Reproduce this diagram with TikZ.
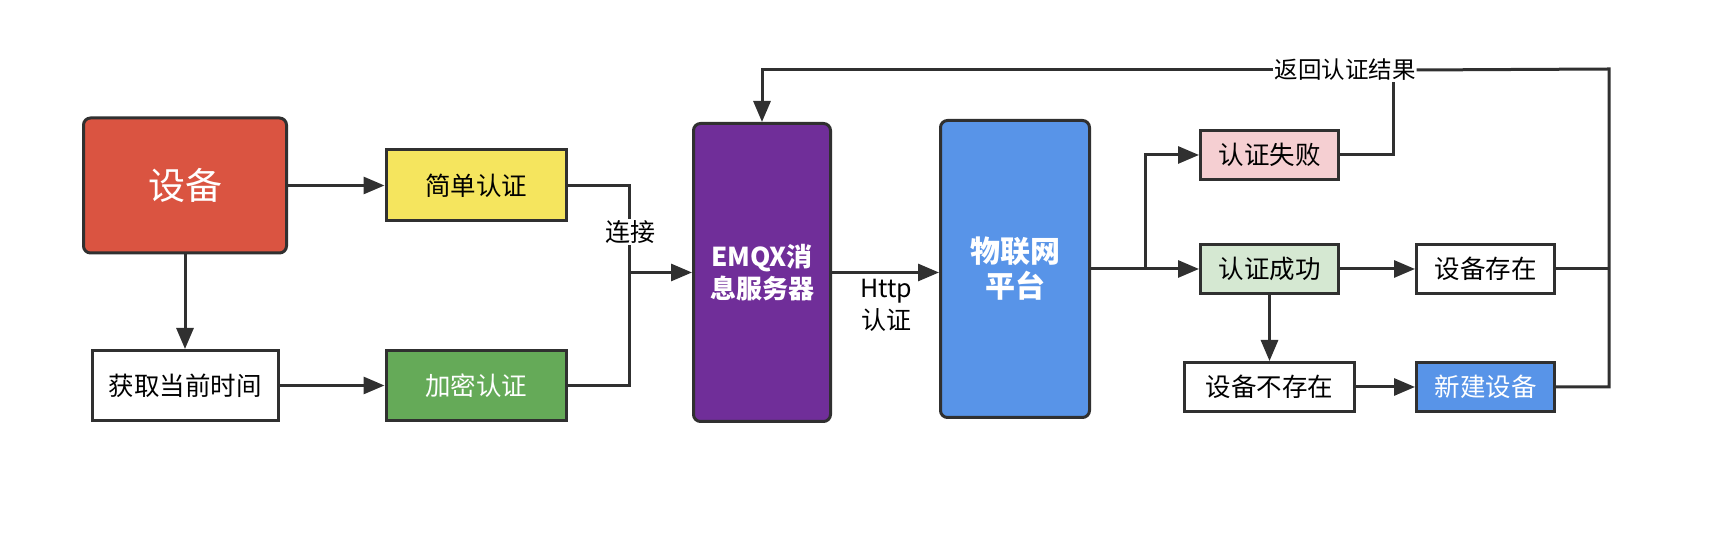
\documentclass[tikz,border=0pt]{standalone}
\usepackage{fontspec}
\setmainfont{Noto Sans CJK SC}
\usetikzlibrary{shapes.geometric, arrows.meta}
\definecolor{linegray}{HTML}{303030}
\definecolor{devred}{HTML}{DA5441}
\definecolor{simpleyellow}{HTML}{F5E55E}
\definecolor{cryptgreen}{HTML}{65AA58}
\definecolor{emqxpurple}{HTML}{702E99}
\definecolor{iotblue}{HTML}{5894E8}
\definecolor{failpink}{HTML}{F5CFD2}
\definecolor{okgreen}{HTML}{D5E8D2}
\tikzstyle{box} = [rectangle, draw=linegray, line width=3pt, text centered, font=\fontsize{25.5}{30}\selectfont]
\tikzstyle{rbox} = [box, rounded corners=7pt, align=center]
\tikzstyle{small} = [box, minimum width=138pt, minimum height=49pt]
\tikzstyle{lbl} = [fill=white, inner sep=1pt, align=center, font=\fontsize{25}{32}\selectfont]
\tikzstyle{line} = [line width=3pt, draw=linegray]
\tikzstyle{arrow} = [line, -{Triangle[length=21pt, width=17pt]}]

\begin{document}
\begin{tikzpicture}[x=1pt, y=1pt, node distance=291pt]
\useasboundingbox (0,0) rectangle (1719,537);

%% NODES

\node (dev) [rbox, fill=devred, text=white, minimum width=203pt, minimum height=135pt, font=\fontsize{37}{44}\selectfont] at (185,351.5) {设备};
\node (simple) [box, fill=simpleyellow, minimum width=180pt, minimum height=71pt, right of=dev] {简单认证};
\node (time) [box, fill=white, minimum width=186pt, minimum height=70pt, below of=dev, node distance=200pt] {获取当前时间};
\node (crypt) [box, fill=cryptgreen, text=white, minimum width=180pt, minimum height=70pt, right of=time] {加密认证};
\node (emqx) [rbox, fill=emqxpurple, text=white, minimum width=137pt, minimum height=298pt, font=\bfseries\fontsize{26}{32}\selectfont] at (762,264.5) {EMQX消\\息服务器};
\node (iot) [rbox, fill=iotblue, text=white, minimum width=149pt, minimum height=297pt, font=\bfseries\fontsize{30}{35}\selectfont] at (1015,268) {物联网\\平台};
\node (ok) [small, fill=okgreen, right of=iot, node distance=254.5pt] {认证成功};
\node (fail) [small, fill=failpink, above of=ok, node distance=114pt] {认证失败};
\node (exist) [small, fill=white, right of=ok, node distance=216pt] {设备存在};
\node (noexist) [small, fill=white, minimum width=170pt, below of=ok, node distance=118pt] {设备不存在};
\node (newdev) [small, fill=iotblue, text=white, right of=noexist, node distance=216pt] {新建设备};
\node (ret) [lbl, font=\fontsize{23.5}{28}\selectfont] at (1345,467) {返回认证结果};
\coordinate (join) at (629,264.5);
\coordinate (split) at (1145,268);
\coordinate (back) at (1609,468);

%% ARROWS

\draw [arrow] (dev) -- (simple);
\draw [arrow] (dev) -- (time);
\draw [arrow] (time) -- (crypt);
\draw [line] (simple.east) -| (join);
\draw [line] (crypt.east) -| (join);
\node (conn) [lbl] at (630,305) {连接};
\draw [arrow] (join) -- (emqx.west);
\draw [arrow] (emqx.east) -- (emqx.east -| iot.west);
\node (http) [lbl, fill=none] at (886,232) {Http\\认证};
\draw [line] (iot.east |- split) -- (split);
\draw [arrow] (split) |- (fail.west);
\draw [arrow] (split) -- (ok.west);
\draw [arrow] (ok) -- (exist);
\draw [arrow] (ok) -- (noexist);
\draw [arrow] (noexist) -- (newdev);
\draw [line] (fail.east) -| ([xshift=48pt]ret.south);
\draw [line] (exist.east) -- (exist.east -| back);
\draw [line] (newdev.east) -| (back) -- (ret.east);
\draw [arrow] (ret.west) -| (emqx.north);
\end{tikzpicture}
\end{document}
